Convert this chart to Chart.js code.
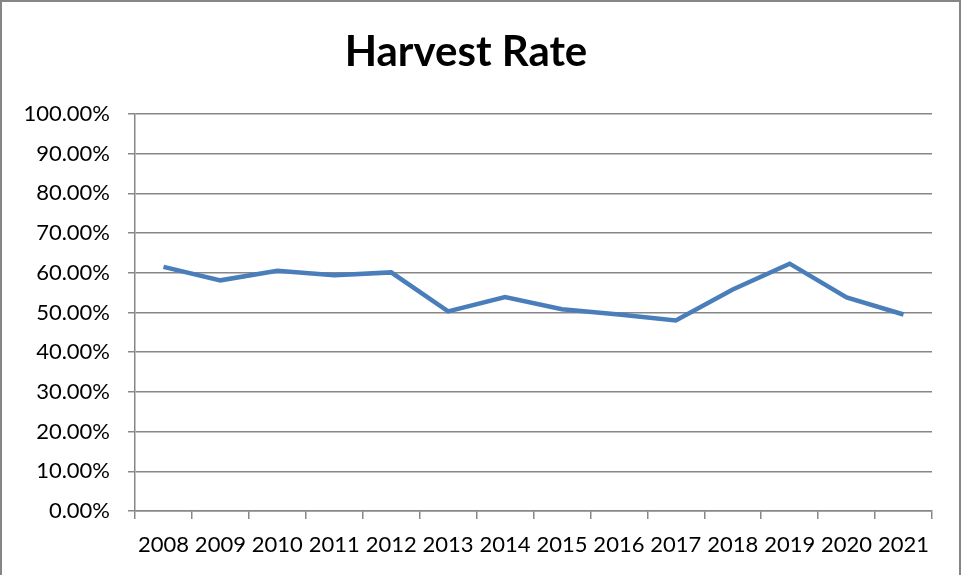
<!DOCTYPE html>
<html>
<head>
<meta charset="utf-8">
<script src="https://cdn.jsdelivr.net/npm/chart.js@4/dist/chart.umd.min.js"></script>
<style>
    html, body { margin: 0; padding: 0; background: #fff; }
    #wrap { width: 961px; height: 575px; }
</style>
</head>
<body>
<div id="wrap"><canvas id="chart"></canvas></div>
<script>
const years = ['2008', '2009', '2010', '2011', '2012', '2013', '2014',
               '2015', '2016', '2017', '2018', '2019', '2020', '2021'];
const harvestRate = [61.5, 58.1, 60.5, 59.4, 60.1, 50.3, 53.9,
                     50.8, 49.5, 48.0, 55.8, 62.3, 53.8, 49.5];

const GRID = '#878787';
const FONT = 'Lato, "Open Sans", sans-serif';

// Frame on top, left and right (bottom is cut off in the picture)
const framePlugin = {
    id: 'frame',
    afterDraw(chart) {
        const ctx = chart.ctx;
        const w = chart.width, h = chart.height;
        ctx.save();
        ctx.strokeStyle = '#868686';
        ctx.lineWidth = 2;
        ctx.beginPath();
        ctx.moveTo(1, h);
        ctx.lineTo(1, 1);
        ctx.lineTo(w - 1, 1);
        ctx.lineTo(w - 1, h);
        ctx.stroke();
        ctx.restore();
    }
};

const config = {
    type: 'line',
    data: {
        labels: years,
        datasets: [{
            label: 'Harvest Rate',
            data: harvestRate,
            borderColor: '#4a7ebb',
            borderWidth: 4.5,
            pointRadius: 0,
            tension: 0,
            fill: false
        }]
    },
    options: {
        responsive: false,
        animation: false,
        devicePixelRatio: 1,
        layout: {
            padding: { left: 0, right: 29, top: 0, bottom: 0 }
        },
        scales: {
            x: {
                offset: true,
                grid: {
                    offset: true,
                    drawOnChartArea: false,
                    drawTicks: true,
                    tickLength: 8,
                    color: GRID,
                    lineWidth: 1.5
                },
                border: { color: GRID, width: 1.5 },
                ticks: {
                    color: '#000',
                    font: { family: FONT, size: 22 },
                    padding: 13,
                    maxRotation: 0,
                    autoSkip: false
                },
                afterFit: (scale) => { scale.height = 64; }
            },
            y: {
                min: 0,
                max: 100,
                grid: {
                    color: GRID,
                    lineWidth: 1.5,
                    tickLength: 7
                },
                border: { color: GRID, width: 1.5 },
                ticks: {
                    stepSize: 10,
                    color: '#000',
                    font: { family: FONT, size: 22 },
                    padding: 18,
                    callback: (v) => v.toFixed(2) + '%'
                },
                afterFit: (scale) => { scale.width = 135; }
            }
        },
        plugins: {
            legend: { display: false },
            tooltip: { enabled: false },
            title: {
                display: true,
                text: 'Harvest Rate',
                color: '#000',
                font: { family: FONT, size: 42, weight: 'bold' },
                padding: { top: 27, bottom: 36.6 }
            }
        }
    },
    plugins: [framePlugin]
};

const canvas = document.getElementById('chart');
canvas.width = 961;
canvas.height = 575;
const harvestChart = new Chart(canvas, config);
</script>
</body>
</html>
